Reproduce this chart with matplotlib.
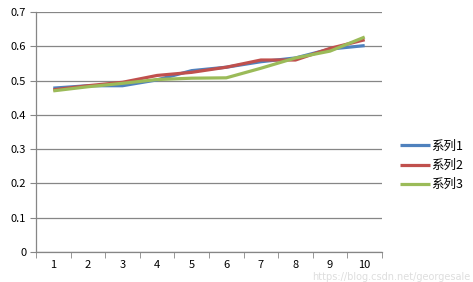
import numpy as np
import matplotlib.pyplot as plt
from matplotlib.ticker import FixedLocator

plt.rcParams['font.family'] = ['Noto Sans CJK SC', 'DejaVu Sans']

x = np.arange(1, 11)
s1 = [0.478, 0.485, 0.485, 0.502, 0.529, 0.539, 0.555, 0.566, 0.592, 0.602]
s2 = [0.473, 0.485, 0.495, 0.515, 0.524, 0.539, 0.560, 0.560, 0.594, 0.619]
s3 = [0.470, 0.482, 0.492, 0.503, 0.507, 0.508, 0.536, 0.566, 0.586, 0.627]
names = ['系列1', '系列2', '系列3']
colors = ['#4F81BD', '#C0504D', '#9BBB59']

fig = plt.figure(figsize=(4.73, 2.82), dpi=100)
ax = fig.add_axes([0.0761, 0.1064, 0.7315, 0.851])

for s, n, c in zip([s1, s2, s3], names, colors):
    ax.plot(x, s, color=c, lw=2.3, label=n, solid_capstyle='butt')

ax.set_xlim(0.5, 10.5)
ax.set_ylim(0, 0.7)
yt = np.arange(0, 0.71, 0.1)
ax.set_yticks(yt)
ax.set_yticklabels(['0'] + ['%.1f' % v for v in yt[1:]])
ax.set_xticks(x)
ax.set_xticklabels([str(i) for i in x])
ax.xaxis.set_minor_locator(FixedLocator(np.arange(0.5, 11, 1)))
ax.tick_params(axis='x', which='major', length=0, pad=6, labelsize=8)
ax.tick_params(axis='x', which='minor', length=4, color='#868686', direction='out')
ax.tick_params(axis='y', length=4, color='#868686', labelsize=8, pad=3)

ax.grid(axis='y', color='#868686', lw=0.9)
ax.set_axisbelow(True)
for sp in ['top', 'right']:
    ax.spines[sp].set_visible(False)
for sp in ['left', 'bottom']:
    ax.spines[sp].set_color('#868686')
    ax.spines[sp].set_linewidth(0.9)

ax.legend(loc='center left', bbox_to_anchor=(1.02, 0.36), frameon=False,
          fontsize=9, handlelength=2.4, handletextpad=0.1, labelspacing=0.5)

# faint watermark as in the source image
fig.text(0.995, 0.0, 'https://blog.csdn.net/georgesale', ha='right', va='bottom',
         fontsize=7, color='#dedede', family='DejaVu Sans')

fig.savefig('out.png', dpi=100)
